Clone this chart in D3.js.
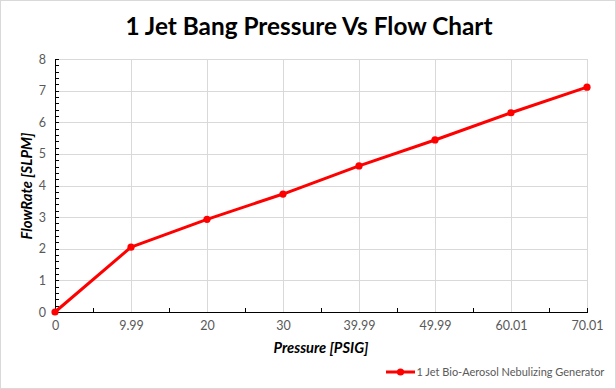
<!DOCTYPE html>
<html>
<head>
<meta charset="utf-8">
<script src="https://cdn.jsdelivr.net/npm/d3@7"></script>
<style>
  html, body { margin: 0; padding: 0; background: #fff; }
  svg { display: block; }
  text { font-family: Lato, "Open Sans", "DejaVu Sans", sans-serif; }
</style>
</head>
<body>
<svg id="chart" width="616" height="389"></svg>
<script>
// ---- data ----
const categories = ["0", "9.99", "20", "30", "39.99", "49.99", "60.01", "70.01"];
const flowRates = [0, 2.05, 2.93, 3.73, 4.62, 5.44, 6.30, 7.11];
const yTicks = [0, 1, 2, 3, 4, 5, 6, 7, 8];
const seriesName = "1 Jet Bio-Aerosol Nebulizing Generator";
const titleText = "1 Jet Bang Pressure Vs Flow Chart";
const xTitle = "Pressure [PSIG]";
const yTitle = "FlowRate [SLPM]";

const W = 616, H = 389;
const plot = { left: 55, right: 587, top: 59, bottom: 312 };
const svg = d3.select("#chart");

function fit(sel, target) {
  const w = sel.node().getComputedTextLength();
  const fs = parseFloat(sel.attr("font-size"));
  if (w > 0) sel.attr("font-size", (fs * target / w).toFixed(2));
}

// chart border
svg.append("rect").attr("x", 0.5).attr("y", 0.5).attr("width", W - 1).attr("height", H - 1)
  .attr("fill", "#fff").attr("stroke", "#d9d9d9").attr("stroke-width", 1);

const x = d3.scalePoint().domain(categories).range([plot.left, plot.right]).padding(0);
const xi = d3.scaleLinear().domain([0, categories.length - 1]).range([plot.left, plot.right]);
const y = d3.scaleLinear().domain([0, 8]).range([plot.bottom, plot.top]);

// gridlines
const gx = svg.append("g").attr("transform", `translate(0,${plot.bottom})`)
  .call(d3.axisBottom(x).tickSize(-(plot.bottom - plot.top)).tickFormat(""));
gx.select(".domain").remove();
gx.selectAll(".tick line").attr("stroke", "#d9d9d9").attr("shape-rendering", "crispEdges");

const gy = svg.append("g").attr("transform", `translate(${plot.left},0)`)
  .call(d3.axisLeft(y).tickValues(yTicks.slice(1)).tickSize(-(plot.right - plot.left)).tickFormat(""));
gy.select(".domain").remove();
gy.selectAll(".tick line").attr("stroke", "#d9d9d9").attr("shape-rendering", "crispEdges");

// y axis with minor ticks inside
const minor = d3.range(0, 8.0001, 0.2);
const ya = svg.append("g").attr("transform", `translate(${plot.left},0)`)
  .call(d3.axisRight(y).tickValues(minor).tickSize(4).tickSizeOuter(0).tickFormat(""));
ya.select(".domain").attr("stroke", "#000").attr("stroke-width", 1.3).attr("shape-rendering", "crispEdges");
ya.selectAll(".tick line").attr("stroke", "#000").attr("shape-rendering", "crispEdges");

// y labels
const yl = svg.append("g").attr("transform", `translate(${plot.left},0)`)
  .call(d3.axisLeft(y).tickValues(yTicks).tickSize(0).tickPadding(9).tickFormat(d3.format("d")));
yl.select(".domain").remove();
yl.selectAll("text").attr("font-size", 12.5).attr("fill", "#595959")
  .attr("font-family", "Lato, 'Open Sans', sans-serif");

// x axis with ticks between categories
const mids = d3.range(0.5, categories.length - 1, 1).concat([categories.length - 1]);
const xa = svg.append("g").attr("transform", `translate(0,${plot.bottom})`)
  .call(d3.axisTop(xi).tickValues(mids).tickSize(4).tickSizeOuter(0).tickFormat(""));
xa.select(".domain").attr("stroke", "#000").attr("stroke-width", 1.3).attr("shape-rendering", "crispEdges");
xa.selectAll(".tick line").attr("stroke", "#000").attr("shape-rendering", "crispEdges");

// x labels
const xl = svg.append("g").attr("transform", `translate(0,${plot.bottom})`)
  .call(d3.axisBottom(x).tickSize(0).tickPadding(9));
xl.select(".domain").remove();
xl.selectAll("text").attr("font-size", 12.5).attr("fill", "#595959")
  .attr("font-family", "Lato, 'Open Sans', sans-serif");

// series line
const line = d3.line().x((d, i) => x(categories[i])).y(d => y(d));
svg.append("path").datum(flowRates).attr("d", line)
  .attr("fill", "none").attr("stroke", "#ff0000").attr("stroke-width", 3)
  .attr("stroke-linejoin", "round").attr("stroke-linecap", "round");
svg.append("g").selectAll("circle").data(flowRates).join("circle")
  .attr("cx", (d, i) => x(categories[i])).attr("cy", d => y(d)).attr("r", 3.6)
  .attr("fill", "#ff0000");

// title
const t = svg.append("text").attr("x", 309).attr("y", 35).attr("text-anchor", "middle")
  .attr("font-size", 25).attr("font-weight", "bold").attr("fill", "#000").text(titleText);
fit(t, 367);

// axis titles
const xt = svg.append("text").attr("x", 321).attr("y", 353).attr("text-anchor", "middle")
  .attr("font-size", 14).attr("font-weight", "bold").attr("font-style", "italic")
  .attr("fill", "#000").text(xTitle);
fit(xt, 95);

const yt = svg.append("text").attr("transform", "translate(32,186) rotate(-90)")
  .attr("text-anchor", "middle")
  .attr("font-size", 14).attr("font-weight", "bold").attr("font-style", "italic")
  .attr("fill", "#000").text(yTitle);
fit(yt, 107);

// legend
const lg = svg.append("g");
lg.append("line").attr("x1", 386).attr("x2", 415).attr("y1", 372).attr("y2", 372)
  .attr("stroke", "#ff0000").attr("stroke-width", 3);
lg.append("circle").attr("cx", 400.5).attr("cy", 372).attr("r", 3.6).attr("fill", "#ff0000");
const lt = lg.append("text").attr("x", 416.5).attr("y", 376).attr("font-size", 12)
  .attr("fill", "#595959").text(seriesName);
fit(lt, 188);
</script>
</body>
</html>
